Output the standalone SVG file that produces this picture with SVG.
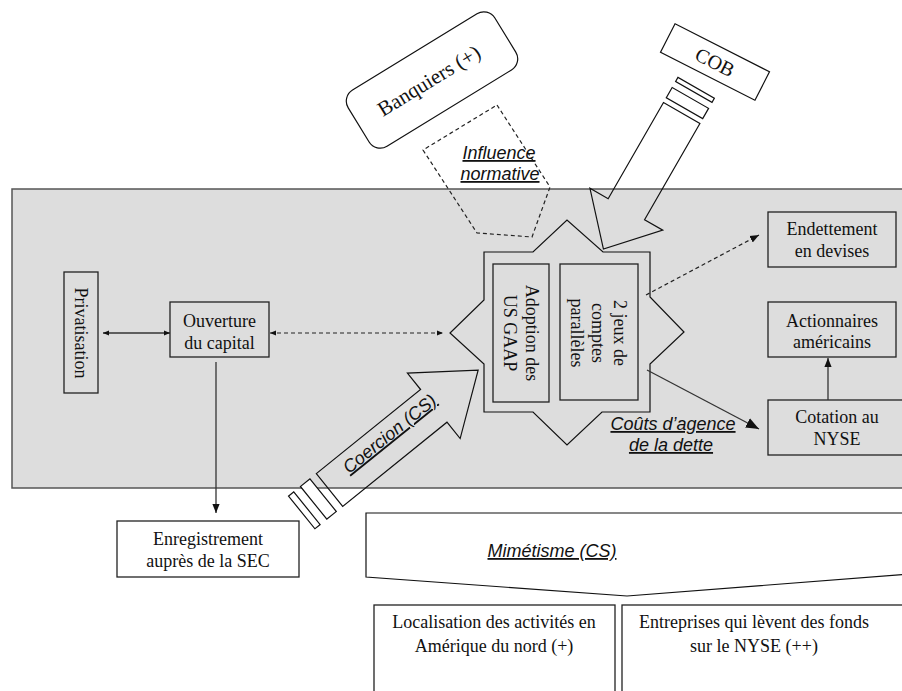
<svg xmlns="http://www.w3.org/2000/svg" width="902" height="691" viewBox="0 0 902 691">
<defs>
<style>
.serif{font-family:"Liberation Serif","Times New Roman",serif;font-size:18px;fill:#111;}
.lab{font-family:"Liberation Sans",Arial,sans-serif;font-size:18px;font-style:italic;fill:#111;text-decoration:underline;}
.box{fill:none;stroke:#222;stroke-width:1.3;}
.wbox{fill:#fff;stroke:#222;stroke-width:1.3;}
.shape{fill:none;stroke:#111;stroke-width:1.2;}
.wshape{fill:#fff;stroke:#111;stroke-width:1.2;}
.con{fill:none;stroke:#333;stroke-width:1.3;}
.dash{fill:none;stroke:#222;stroke-width:1.2;stroke-dasharray:4 3;}
</style>
<marker id="sm" viewBox="0 0 10 10" refX="10" refY="5" markerWidth="6" markerHeight="6" markerUnits="userSpaceOnUse" orient="auto-start-reverse"><path d="M0,1 L10,5 L0,9 Z" fill="#111"/></marker>
<marker id="md" viewBox="0 0 10 10" refX="10" refY="5" markerWidth="9" markerHeight="9" markerUnits="userSpaceOnUse" orient="auto"><path d="M0,1 L10,5 L0,9 Z" fill="#111"/></marker>
<marker id="lg" viewBox="0 0 10 10" refX="10" refY="5" markerWidth="13" markerHeight="13" markerUnits="userSpaceOnUse" orient="auto"><path d="M0,1 L10,5 L0,9 Z" fill="#111"/></marker>
</defs>
<rect width="902" height="691" fill="#fff"/>
<rect id="zone" x="12" y="189" width="900" height="299" fill="#dddddd" stroke="#555" stroke-width="1.5"/>

<g id="banquiers" transform="translate(432,80) rotate(-31.5)">
<rect x="-86" y="-33" width="172" height="66" rx="13" class="wshape"/>
<text x="-3" y="6" class="serif" style="font-size:21px" text-anchor="middle">Banquiers (+)</text>
</g>

<g id="influence">
<polygon points="497,105 550,187 532,237 477,233 423,150" class="dash"/>
<text x="499" y="159" class="lab" text-anchor="middle">Influence</text>
<text x="500" y="180" class="lab" text-anchor="middle">normative</text>
</g>

<g id="cob" transform="translate(715,62) rotate(27)">
<rect x="-53" y="-16" width="106" height="32" class="wshape"/>
<text x="0" y="7" class="serif" style="font-size:20px" text-anchor="middle">COB</text>
</g>

<g id="cob-arrow" transform="translate(681.7,113) rotate(119.9)">
<rect x="-29" y="-21" width="4.7" height="42" class="wshape"/>
<rect x="-17.4" y="-21" width="11.8" height="42" class="wshape"/>
<polygon points="0,-21 111,-21 111,-42 157,0 111,42 111,21 0,21" class="shape"/>
</g>

<g id="star">
<path d="M484,252 L533,252 L567,220 L603,252 L650,252 L650,297 L684,332 L650,364 L650,412 L602,412 L567,445 L533,412 L484,412 L484,364 L450,333 L484,300 Z" class="shape"/>
</g>

<g id="adoption">
<rect x="493" y="264" width="56" height="138" class="box"/>
<g transform="translate(521,333) rotate(90)">
<text x="0" y="-5" class="serif" text-anchor="middle">Adoption des</text>
<text x="0" y="17" class="serif" text-anchor="middle">US GAAP</text>
</g>
</g>

<g id="comptes">
<rect x="560" y="264" width="78" height="136" class="box"/>
<g transform="translate(599,333) rotate(90)">
<text x="0" y="-15" class="serif" text-anchor="middle">2 jeux de</text>
<text x="0" y="7" class="serif" text-anchor="middle">comptes</text>
<text x="0" y="28" class="serif" text-anchor="middle">parallèles</text>
</g>
</g>

<g id="privatisation">
<rect x="64" y="272" width="34" height="121" class="box"/>
<g transform="translate(81,333) rotate(90)">
<text x="0" y="6" class="serif" text-anchor="middle">Privatisation</text>
</g>
</g>

<g id="ouverture">
<rect x="170" y="302" width="99" height="55" class="box"/>
<text x="219.5" y="327" class="serif" text-anchor="middle">Ouverture</text>
<text x="219.5" y="349" class="serif" text-anchor="middle">du capital</text>
</g>

<g id="enregistrement">
<rect x="117" y="521" width="182" height="56" class="wbox"/>
<text x="208" y="545" class="serif" text-anchor="middle">Enregistrement</text>
<text x="208" y="567" class="serif" text-anchor="middle">auprès de la SEC</text>
</g>

<g id="endettement">
<rect x="768" y="212" width="128" height="55" class="box"/>
<text x="832" y="235" class="serif" text-anchor="middle">Endettement</text>
<text x="832" y="257" class="serif" text-anchor="middle">en devises</text>
</g>

<g id="actionnaires">
<rect x="768" y="302" width="128" height="55" class="box"/>
<text x="832" y="327" class="serif" text-anchor="middle">Actionnaires</text>
<text x="832" y="348" class="serif" text-anchor="middle">américains</text>
</g>

<g id="cotation">
<rect x="768" y="400" width="140" height="55" class="box"/>
<text x="837" y="423" class="serif" text-anchor="middle">Cotation au</text>
<text x="837" y="445" class="serif" text-anchor="middle">NYSE</text>
</g>

<g id="coercion" transform="translate(329.5,490) rotate(-38.9)">
<rect x="-35.7" y="-21" width="6.7" height="42" class="wshape"/>
<rect x="-20.4" y="-21" width="12.2" height="42" class="wshape"/>
<polygon points="0,-21 134,-21 134,-42 191,0 134,42 134,21 0,21" class="shape"/>
<text x="82" y="0" class="lab" text-anchor="middle">Coercion (CS)</text>
</g>

<g id="mimetisme">
<polygon points="366,513 910,513 910,574 627,596 366,577" class="wshape"/>
<text x="552" y="557" class="lab" text-anchor="middle">Mimétisme (CS)</text>
</g>

<g id="localisation">
<rect x="374" y="605" width="241" height="100" class="wbox"/>
<text x="494" y="628" class="serif" text-anchor="middle">Localisation des activités en</text>
<text x="494" y="652" class="serif" text-anchor="middle">Amérique du nord (+)</text>
</g>

<g id="entreprises">
<rect x="622" y="605" width="290" height="100" class="wbox"/>
<text x="754" y="628" class="serif" text-anchor="middle">Entreprises qui lèvent des fonds</text>
<text x="754" y="652" class="serif" text-anchor="middle">sur le NYSE (++)</text>
</g>

<g id="couts">
<text x="673" y="430" class="lab" text-anchor="middle">Coûts d’agence</text>
<text x="671" y="451" class="lab" text-anchor="middle">de la dette</text>
</g>

<g id="connectors">
<line x1="103" y1="333" x2="170" y2="333" class="con" marker-start="url(#sm)" marker-end="url(#sm)"/>
<line x1="270" y1="333" x2="443" y2="333" class="dash" marker-start="url(#sm)" marker-end="url(#sm)"/>
<line x1="216" y1="362" x2="216" y2="513" class="con" marker-end="url(#md)"/>
<line x1="828" y1="400" x2="828" y2="358" class="con" marker-end="url(#md)"/>
<line x1="646" y1="295" x2="759" y2="235" class="dash" marker-end="url(#md)"/>
<line x1="647" y1="370" x2="759" y2="429" class="con" marker-end="url(#lg)"/>
</g>
</svg>
